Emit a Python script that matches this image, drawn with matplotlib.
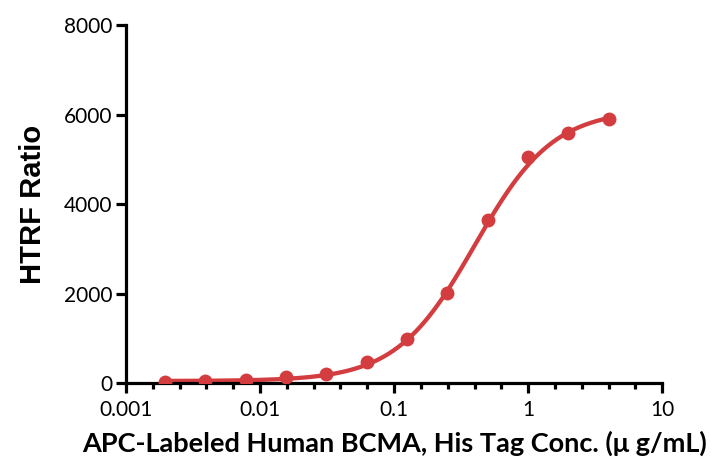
"""HTRF binding curve: APC-labeled human BCMA titration."""
import matplotlib
matplotlib.use("Agg")
import matplotlib.pyplot as plt
from matplotlib.ticker import FixedLocator, FixedFormatter
import numpy as np

# ── data ─────────────────────────────────────────────────────────────────────
conc = [4, 2, 1, 0.5, 0.25, 0.125, 0.0625, 0.03125, 0.015625,
        0.0078125, 0.00390625, 0.001953125]          # µg/mL
htrf = [5900, 5590, 5050, 3640, 2010, 980, 470, 210, 140, 75, 40, 30]

# 4-parameter logistic fit as drawn in the figure
fit_bottom = 45
fit_top = 6120
fit_ec50 = 0.40
fit_hill = 1.48

x_ticks = [0.001, 0.01, 0.1, 1, 10]
x_tick_labels = ["0.001", "0.01", "0.1", "1", "10"]
y_ticks = [0, 2000, 4000, 6000, 8000]

RED = "#D43D40"

fig = plt.figure(figsize=(7.12, 4.66), dpi=100)
ax = fig.add_axes([0.177, 0.178, 0.753, 0.768])

# fitted curve
xf = np.logspace(np.log10(min(conc)), np.log10(max(conc)), 300)
yf = fit_bottom + (fit_top - fit_bottom) / (1 + (fit_ec50 / xf) ** fit_hill)
ax.plot(xf, yf, color=RED, lw=3.1, solid_capstyle="round", zorder=2)
ax.plot(conc, htrf, "o", color=RED, ms=10, mec="none", zorder=3)

ax.set_xscale("log")
ax.set_xlim(0.001, 10)
ax.set_ylim(0, 8000)

# GraphPad-style minor ticks: 5 log-even steps per decade
minor = [10 ** (d + k / 5) for d in range(-3, 1) for k in range(1, 5)]
ax.xaxis.set_major_locator(FixedLocator(x_ticks))
ax.xaxis.set_major_formatter(FixedFormatter(x_tick_labels))
ax.xaxis.set_minor_locator(FixedLocator(minor))
ax.xaxis.set_minor_formatter(FixedFormatter([""] * len(minor)))
ax.set_yticks(y_ticks)
ax.set_yticklabels([str(v) for v in y_ticks])

for s in ("top", "right"):
    ax.spines[s].set_visible(False)
for s in ("left", "bottom"):
    ax.spines[s].set_linewidth(2.3)
    ax.spines[s].set_capstyle("projecting")

ax.tick_params(axis="both", which="major", length=7, width=2.3, direction="out",
               labelsize=15, colors="black")
ax.tick_params(axis="x", which="major", pad=5)
ax.tick_params(axis="y", which="major", pad=3)
ax.tick_params(axis="x", which="minor", length=4.5, width=2.3, direction="out")
for lab in ax.get_xticklabels() + ax.get_yticklabels():
    lab.set_fontfamily("Lato")

ax.set_xlabel("APC-Labeled Human BCMA, His Tag Conc. (\u03bc g/mL)",
              fontsize=19.5, fontweight="bold", family=["Lato", "DejaVu Sans"],
              labelpad=8)
ax.set_ylabel("HTRF Ratio", fontsize=21, fontweight="bold",
              family="Liberation Sans", labelpad=12)

fig.savefig("out.png", dpi=100)
